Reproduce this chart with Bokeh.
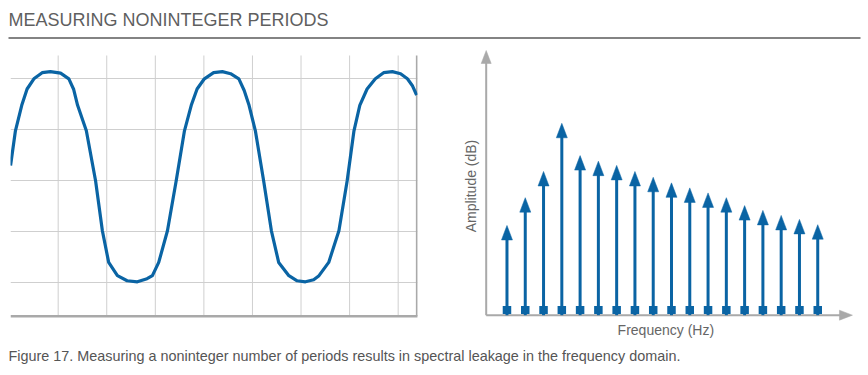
from bokeh.plotting import figure
from bokeh.layouts import column, row
from bokeh.models import Range1d, FixedTicker, Label, Grid
from bokeh.embed import file_html
from bokeh.resources import INLINE

# ---------------- data ----------------
TITLE = "MEASURING NONINTEGER PERIODS"
CAPTION = ("Figure 17. Measuring a noninteger number of periods results in "
           "spectral leakage in the frequency domain.")
X_LABEL = "Frequency (Hz)"
Y_LABEL = "Amplitude (dB)"

# time-domain waveform (x in grid columns, y in grid rows)
time_units = [0.02, 0.12, 0.25, 0.36, 0.50, 0.67, 0.84, 1.05, 1.22, 1.32, 1.40,
              1.58, 1.77, 1.91, 2.04, 2.22, 2.42, 2.63, 2.83, 2.94, 3.07,
              3.25, 3.43, 3.60, 3.74, 3.86, 4.01, 4.20, 4.38, 4.55, 4.72, 4.83,
              4.93, 5.06, 5.23, 5.39, 5.54, 5.75, 5.92, 6.09, 6.26, 6.37,
              6.57, 6.78, 6.95, 7.09, 7.21, 7.36, 7.53, 7.70, 7.88, 8.05,
              8.19, 8.29, 8.38]
signal = [0.30, 0.98, 1.48, 1.80, 2.00, 2.12, 2.14, 2.11, 2.00, 1.79, 1.48,
          0.98, 0.00, -0.98, -1.60, -1.86, -1.96, -1.98, -1.92, -1.86, -1.60,
          -0.98, 0.00, 0.98, 1.48, 1.80, 2.00, 2.12, 2.14, 2.10, 2.00, 1.77,
          1.48, 0.98, 0.00, -0.98, -1.60, -1.86, -1.96, -1.98, -1.94, -1.86,
          -1.60, -0.98, 0.00, 0.98, 1.48, 1.80, 2.00, 2.12, 2.14, 2.10,
          2.00, 1.87, 1.68]
grid_time = [1, 2, 3, 4, 5, 6, 7, 8]
grid_level = [-2, -1, 0, 1, 2]

# frequency-domain spectrum
freq_bins = [1, 2, 3, 4, 5, 6, 7, 8, 9, 10, 11, 12, 13, 14, 15, 16, 17, 18]
amplitude = [33.9, 44.4, 54.3, 72.5, 60.3, 58.2, 56.6, 54.3, 52.1, 50.0,
             48.1, 46.2, 44.4, 41.4, 39.6, 37.7, 36.2, 34.2]

# ---------------- style ----------------
BLUE = "#0a64a4"
AXIS_GRAY = "#a9a9a9"
GRID_GRAY = "#cfcfcf"
TEXT_GRAY = "#666666"
FONT = "Liberation Sans"

W, H_HEAD, H_MID, H_CAP = 868, 45, 295, 35
HALF = 434


def make(width, height, xr, yr, left=0, right=0):
    p = figure(width=width, height=height, x_range=Range1d(*xr), y_range=Range1d(*yr),
               x_axis_type=None, y_axis_type=None, title=None,
               output_backend="svg", toolbar_location=None,
               min_border_left=left, min_border_right=right,
               min_border_top=0, min_border_bottom=0)
    p.outline_line_color = None
    p.background_fill_color = "white"
    p.border_fill_color = "white"
    return p


# ---------------- header ----------------
header = make(W, H_HEAD, (0, W), (H_HEAD, 0))
header.add_layout(Label(x=8, y=19.3, text=TITLE, text_font=FONT, text_font_size="18px",
                        text_color="#5f5f5f", text_baseline="alphabetic"))
header.segment(x0=[8], y0=[37.5], x1=[860], y1=[37.5], line_color="#5a5a5a", line_width=1.3)

# ---------------- left: time domain ----------------
LX = (0.0185, 8.398)
LY = (-3.131, 2.653)
TOP_LEVEL = 2.457        # upper end of the vertical grid lines
BASE_LEVEL = -2.655      # bottom axis line
RIGHT_EDGE = 8.385       # right border line
left = make(HALF, H_MID, LX, LY, left=10, right=17)
left.add_layout(Grid(dimension=1, ticker=FixedTicker(ticks=grid_level),
                     grid_line_color=GRID_GRAY, grid_line_width=1))
n_grid = len(grid_time)
left.segment(x0=grid_time, y0=[BASE_LEVEL] * n_grid, x1=grid_time, y1=[TOP_LEVEL] * n_grid,
             line_color=GRID_GRAY, line_width=1)
left.segment(x0=[RIGHT_EDGE], y0=[BASE_LEVEL], x1=[RIGHT_EDGE], y1=[TOP_LEVEL],
             line_color=AXIS_GRAY, line_width=2)
left.segment(x0=[LX[0]], y0=[BASE_LEVEL], x1=[RIGHT_EDGE + 0.02], y1=[BASE_LEVEL],
             line_color=AXIS_GRAY, line_width=2.5)
left.line(time_units, signal, line_color=BLUE, line_width=3.2, line_join="round")

# ---------------- right: frequency domain ----------------
XR = (-2.965, 20.777)
YR = (-9.56, 101.89)
right = make(HALF, H_MID, XR, YR)
px_x = HALF / (XR[1] - XR[0])     # pixels per frequency bin
px_y = H_MID / (YR[1] - YR[0])    # pixels per amplitude unit

AX_X0 = -0.137      # axis origin (in bins)
AX_X_TIP = 19.9
AX_Y_TIP = 100.0
AX_HEAD_LEN = 13.0
AX_HEAD_HALF = 5.0

right.segment(x0=[AX_X0, AX_X0], y0=[0, 0],
              x1=[AX_X_TIP - AX_HEAD_LEN / px_x * 0.5, AX_X0],
              y1=[0, AX_Y_TIP - AX_HEAD_LEN / px_y * 0.5],
              line_color=AXIS_GRAY, line_width=2)
right.patches(
    xs=[[AX_X_TIP, AX_X_TIP - AX_HEAD_LEN / px_x, AX_X_TIP - AX_HEAD_LEN / px_x],
        [AX_X0, AX_X0 - AX_HEAD_HALF / px_x, AX_X0 + AX_HEAD_HALF / px_x]],
    ys=[[0, AX_HEAD_HALF / px_y, -AX_HEAD_HALF / px_y],
        [AX_Y_TIP, AX_Y_TIP - AX_HEAD_LEN / px_y, AX_Y_TIP - AX_HEAD_LEN / px_y]],
    fill_color=AXIS_GRAY, line_color=AXIS_GRAY, line_width=0.5)

HEAD_LEN = 14.5 / px_y
HEAD_HALF = 5.5 / px_x
n = len(freq_bins)
right.segment(x0=freq_bins, y0=[0] * n, x1=freq_bins,
              y1=[a - HEAD_LEN + 0.5 for a in amplitude],
              line_color=BLUE, line_width=3)
right.patches(xs=[[f - HEAD_HALF, f + HEAD_HALF, f] for f in freq_bins],
              ys=[[a - HEAD_LEN, a - HEAD_LEN, a] for a in amplitude],
              fill_color=BLUE, line_color=BLUE, line_width=0.5)
right.rect(x=freq_bins, y=[5.2 / px_y] * n, width=8.5, height=8,
           width_units="screen", height_units="screen",
           fill_color=BLUE, line_color=None)

right.add_layout(Label(x=9.69, y=-15.0 / px_y, text=X_LABEL,
                       text_align="center", text_baseline="alphabetic",
                       text_font=FONT, text_font_size="14px", text_color=TEXT_GRAY))
right.add_layout(Label(x=-0.83 - 2.5 / px_x, y=48.05 + 2.0 / px_y, text=Y_LABEL, angle=90,
                       angle_units="deg", text_align="center", text_baseline="middle",
                       text_font=FONT, text_font_size="14px", text_color=TEXT_GRAY))

# ---------------- caption ----------------
caption = make(W, H_CAP, (0, W), (H_CAP, 0))
caption.add_layout(Label(x=8, y=15, text=CAPTION, text_font=FONT, text_font_size="14.4px",
                         text_color="#555555", text_baseline="alphabetic"))

layout = column(header, row(left, right, spacing=0), caption, spacing=0)
open("out.html", "w").write(file_html(layout, INLINE))
